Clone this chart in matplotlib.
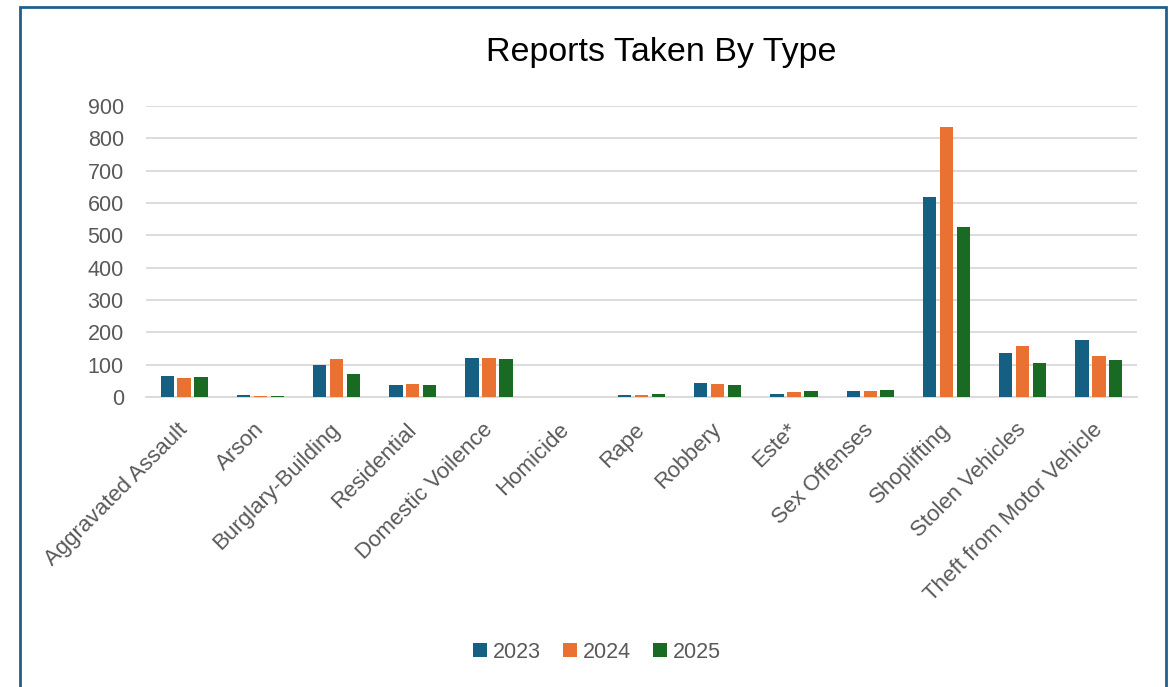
"""Reports taken by type, grouped bars per year."""

import numpy as np
import matplotlib.pyplot as plt
import matplotlib.transforms as mtransforms
from matplotlib.patches import Rectangle

# ---------------------------------------------------------------------------
# data
# ---------------------------------------------------------------------------
categories = [
    "Aggravated Assault", "Arson", "Burglary-Building", "Residential",
    "Domestic Voilence", "Homicide", "Rape", "Robbery", "Este*",
    "Sex Offenses", "Shoplifting", "Stolen Vehicles",
    "Theft from Motor Vehicle",
]
years = ["2023", "2024", "2025"]
reports_2023 = [65, 5, 98, 36, 122, 0, 5, 43, 8, 19, 620, 135, 177]
reports_2024 = [60, 3, 116, 39, 121, 0, 6, 41, 16, 18, 835, 157, 128]
reports_2025 = [63, 4, 70, 38, 118, 0, 9, 36, 18, 22, 527, 105, 114]
y_ticks = [0, 100, 200, 300, 400, 500, 600, 700, 800, 900]

# ---------------------------------------------------------------------------
# style
# ---------------------------------------------------------------------------
COLORS = ["#156082", "#E97132", "#196B24"]
TEXT_GRAY = "#595959"
GRID_GRAY = "#d9d9d9"
BORDER = "#215f8b"
BAR_W = 0.175
OFFSET = 0.222
LABEL_FS = 15.5

plt.rcParams["font.family"] = ["Liberation Sans", "DejaVu Sans"]

W, H = 1174, 687
fig = plt.figure(figsize=(W / 100, H / 100), dpi=100)
ax = fig.add_axes([146 / W, 1 - 397 / H, (1137 - 146) / W, (397 - 106) / H])

x = np.arange(len(categories))
series = [reports_2023, reports_2024, reports_2025]
for i, (vals, yr, col) in enumerate(zip(series, years, COLORS)):
    ax.bar(x + (i - 1) * OFFSET, vals, width=BAR_W, color=col, label=yr,
           zorder=3)

ax.set_xlim(-0.5, len(categories) - 0.5)
ax.set_ylim(0, 900)
ax.set_yticks(y_ticks)
ax.grid(axis="y", color=GRID_GRAY, linewidth=1.3, zorder=0)
ax.set_axisbelow(True)
for side in ["top", "right", "left"]:
    ax.spines[side].set_visible(False)
ax.spines["bottom"].set_color(GRID_GRAY)
ax.spines["bottom"].set_linewidth(1.3)

ax.tick_params(axis="y", length=0, pad=16, labelsize=LABEL_FS,
               labelcolor=TEXT_GRAY)
ax.tick_params(axis="x", length=0, pad=13, labelsize=16,
               labelcolor=TEXT_GRAY)
ax.set_xticks(x)
ax.set_xticklabels(categories, rotation=45, ha="right",
                   rotation_mode="anchor")
# nudge the slanted labels a little down-left
shift = mtransforms.ScaledTranslation(-7 / 100, -4 / 100, fig.dpi_scale_trans)
for lbl in ax.get_xticklabels():
    lbl.set_transform(lbl.get_transform() + shift)

fig.text(661 / W, 1 - 52 / H, "Reports Taken By Type", fontsize=24.5,
         ha="center", va="center", color="black")

handles, labels = ax.get_legend_handles_labels()
fig.legend(handles, labels, loc="center", bbox_to_anchor=(597 / W, 1 - 652 / H),
           ncol=3, frameon=False, fontsize=LABEL_FS, labelcolor=TEXT_GRAY,
           handlelength=0.65, handleheight=0.65, handletextpad=0.3,
           columnspacing=1.0)

# chart-area frame, bottom edge runs off the canvas
fig.patches.append(Rectangle((20 / W, -0.05), (1166 - 20) / W, 1.05 - 7 / H,
                             transform=fig.transFigure, fill=False,
                             edgecolor=BORDER, linewidth=2))

fig.savefig("out.png", dpi=100)
